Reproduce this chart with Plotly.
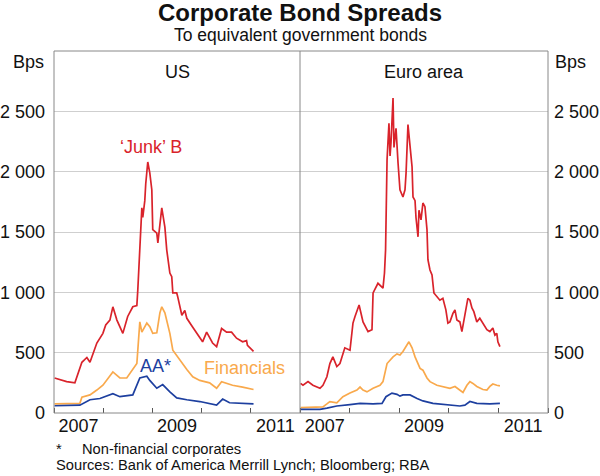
import plotly.graph_objects as go

# ---------------- data (basis points) ----------------
us_junk_dates = ["2007-01-05","2007-04-05","2007-06-05","2007-07-27","2007-09-02","2007-09-25","2007-11-15",
    "2007-12-30","2008-01-20","2008-02-20","2008-03-13","2008-04-12","2008-05-26","2008-07-01","2008-08-08",
    "2008-09-07","2008-09-14","2008-10-14","2008-10-21","2008-11-05","2008-11-12","2008-11-27","2008-12-12",
    "2008-12-27","2009-01-03","2009-02-02","2009-02-10","2009-03-11","2009-04-03","2009-04-17","2009-05-10",
    "2009-05-24","2009-06-01","2009-06-30","2009-07-08","2009-08-07","2009-08-29","2009-09-13","2009-10-27",
    "2009-12-18","2010-01-08","2010-02-07","2010-03-23","2010-04-22","2010-05-29","2010-07-05","2010-08-11",
    "2010-09-17","2010-11-01","2010-11-30","2010-12-07","2011-01-21"]
us_junk = [290,260,250,420,460,420,580,660,730,770,880,770,660,800,880,890,1020,1700,1620,1760,1900,2080,1990,
    1850,1520,1490,1410,1700,1540,1350,1160,1130,995,995,960,810,850,785,710,630,590,670,580,550,700,670,670,
    620,590,600,560,510]

us_fin_dates = ["2007-01-05","2007-07-12","2007-07-27","2007-09-25","2007-11-15","2007-12-30","2008-03-13",
    "2008-05-04","2008-06-24","2008-08-08","2008-09-07","2008-09-29","2008-10-14","2008-11-20","2008-12-12",
    "2009-01-03","2009-02-02","2009-02-25","2009-03-11","2009-04-03","2009-05-10","2009-06-01","2009-07-22",
    "2009-09-13","2009-10-27","2009-12-18","2010-03-01","2010-04-22","2010-05-29","2010-08-18","2010-11-01",
    "2011-01-21"]
us_fin = [75,80,130,150,190,230,340,290,290,360,410,755,670,745,715,660,665,830,880,830,660,520,440,360,300,
    270,250,205,260,230,215,195]

us_aa_dates = ["2007-01-05","2007-07-12","2007-09-25","2007-12-08","2008-03-13","2008-05-04","2008-08-08",
    "2008-09-29","2008-11-20","2008-12-12","2009-02-02","2009-03-18","2009-05-10","2009-06-30","2009-09-13",
    "2009-12-18","2010-04-22","2010-06-06","2010-07-27","2011-01-21"]
us_aa = [60,65,110,120,160,135,150,290,305,270,205,235,175,125,110,95,65,115,85,75]

eu_junk_dates = ["2007-01-05","2007-01-23","2007-03-01","2007-04-06","2007-05-28","2007-06-19","2007-07-18",
    "2007-08-09","2007-08-31","2007-09-29","2007-10-22","2007-11-27","2008-01-04","2008-01-26","2008-02-10",
    "2008-03-11","2008-04-09","2008-05-16","2008-06-14","2008-06-22","2008-07-28","2008-09-03","2008-09-14",
    "2008-09-22","2008-10-03","2008-10-17","2008-10-25","2008-11-01","2008-11-16","2008-11-23","2008-12-08",
    "2008-12-15","2008-12-23","2009-01-06","2009-01-28","2009-02-12","2009-02-20","2009-03-06","2009-03-21",
    "2009-04-05","2009-04-12","2009-04-27","2009-05-04","2009-05-19","2009-05-26","2009-06-10","2009-06-24",
    "2009-07-09","2009-07-24","2009-07-31","2009-08-15","2009-08-30","2009-09-13","2009-10-05","2009-10-27",
    "2009-11-18","2009-12-10","2009-12-25","2010-01-09","2010-01-31","2010-02-15","2010-03-01","2010-03-23",
    "2010-04-07","2010-04-29","2010-05-21","2010-06-05","2010-06-20","2010-07-04","2010-07-26","2010-08-17",
    "2010-09-09","2010-10-08","2010-10-30","2010-11-21","2010-12-06","2010-12-20","2010-12-28","2011-01-12"]
eu_junk = [245,230,260,230,205,230,300,410,465,385,410,540,520,745,800,895,755,675,690,995,1075,1035,1160,
    1350,2100,2400,2130,2240,2610,2200,2360,2260,2070,1850,1790,1850,1990,2390,2240,2040,1790,1760,1620,1460,
    1680,1600,1740,1710,1520,1270,1185,1145,995,965,935,950,855,745,755,825,855,770,755,675,800,950,935,870,
    840,755,785,745,690,675,705,645,660,590,550]

eu_fin_dates = ["2007-01-05","2007-06-19","2007-07-18","2007-08-09","2007-09-29","2007-11-13","2008-01-04",
    "2008-02-24","2008-03-18","2008-04-09","2008-05-08","2008-06-22","2008-08-12","2008-09-03","2008-10-03",
    "2008-10-25","2008-11-16","2008-12-15","2009-01-06","2009-01-28","2009-02-27","2009-03-13","2009-04-05",
    "2009-04-27","2009-06-03","2009-06-24","2009-07-24","2009-08-15","2009-10-05","2009-11-18","2010-01-09",
    "2010-02-15","2010-03-23","2010-04-15","2010-05-14","2010-06-05","2010-06-27","2010-07-26","2010-09-09",
    "2010-10-08","2010-10-30","2010-11-21","2010-12-20","2011-01-12"]
eu_fin = [45,50,75,95,85,135,165,190,215,190,175,205,230,260,410,440,465,490,480,510,565,590,540,465,370,355,
    290,260,230,220,205,220,190,170,230,260,245,220,195,190,220,240,230,225]

eu_aa_dates = ["2007-01-05","2007-05-28","2007-07-18","2007-09-29","2008-01-04","2008-03-18","2008-06-22",
    "2008-08-27","2008-09-25","2008-11-08","2008-12-15","2009-01-06","2009-01-28","2009-03-21","2009-05-12",
    "2009-06-24","2009-09-06","2009-12-18","2010-03-23","2010-04-29","2010-06-05","2010-07-26","2010-10-30",
    "2011-01-12"]
eu_aa = [30,30,40,58,70,80,75,80,135,165,155,140,150,150,120,100,80,70,58,65,95,80,75,80]

y_tick_vals = [0, 500, 1000, 1500, 2000, 2500]
y_tick_text = ["0", "500", "1 000", "1 500", "2 000", "2 500"]
x_label_vals = ["2007-07-02", "2009-07-02", "2011-07-02"]
x_label_text = ["2007", "2009", "2011"]

RED = "#d9232b"
ORANGE = "#f9a94c"
BLUE = "#1d3f9f"
FONT = "Liberation Sans, Arial, sans-serif"
FS = 18

fig = go.Figure()
for d, v, c, xa, ya in [
    (us_junk_dates, us_junk, RED, "x", "y"),
    (us_fin_dates, us_fin, ORANGE, "x", "y"),
    (us_aa_dates, us_aa, BLUE, "x", "y"),
    (eu_junk_dates, eu_junk, RED, "x2", "y2"),
    (eu_fin_dates, eu_fin, ORANGE, "x2", "y2"),
    (eu_aa_dates, eu_aa, BLUE, "x2", "y2"),
]:
    fig.add_trace(go.Scatter(x=d, y=v, mode="lines", line=dict(color=c, width=1.7),
                             xaxis=xa, yaxis=ya, showlegend=False, hoverinfo="skip"))

split = 246 / 494
xcommon = dict(type="date", range=["2007-01-01", "2012-01-01"], showgrid=False, zeroline=False,
               tickmode="array", tickvals=x_label_vals, ticktext=x_label_text, ticks="", ticklen=0,
               tickfont=dict(size=FS, color="#111"), automargin=False,
               minor=dict(ticks="inside", ticklen=5, tickcolor="#555", dtick="M12",
                          tick0="2007-01-01", showgrid=False),
               showline=False)
ycommon = dict(range=[0, 3000], tickmode="array", tickvals=y_tick_vals, ticktext=y_tick_text,
               showgrid=True, gridcolor="#cfcfcf", gridwidth=1, zeroline=False, automargin=False,
               tickfont=dict(size=FS, color="#111"), ticks="", showline=False)

fig.update_layout(
    width=600, height=476,
    margin=dict(l=54, r=52, t=51, b=63, autoexpand=False),
    paper_bgcolor="white", plot_bgcolor="white",
    font=dict(family=FONT, color="#111"),
    xaxis=dict(domain=[0, split], anchor="y", **xcommon),
    xaxis2=dict(domain=[split, 1], anchor="y2", **xcommon),
    yaxis=dict(anchor="x", side="left", ticklabelstandoff=8, **ycommon),
    yaxis2=dict(anchor="x2", side="right", ticklabelstandoff=5, **ycommon),
)

shapes = [
    dict(type="rect", xref="paper", yref="paper", x0=0, x1=1, y0=0, y1=1,
         line=dict(color="#888", width=1)),
    dict(type="line", xref="paper", yref="paper", x0=split, x1=split, y0=0, y1=1,
         line=dict(color="#888", width=1)),
]
fig.update_layout(shapes=shapes)

ann = []
def text(x, y, s, size=FS, color="#111", xanchor="center", bold=False, xref="paper", yref="paper"):
    ann.append(dict(x=x, y=y, xref=xref, yref=yref, text=f"<b>{s}</b>" if bold else s,
                    showarrow=False, xanchor=xanchor, yanchor="middle",
                    font=dict(size=size, color=color, family=FONT)))

# positions in pixel space converted to paper coordinates
def px(xp):
    return (xp - 54) / 494
def py(yp):
    return (413 - yp) / 362

text(px(300), py(12.5), "Corporate Bond Spreads", size=24, bold=True)
text(px(300), py(35), "To equivalent government bonds", size=17.5)
text(px(46), py(62), "Bps", xanchor="right")
text(px(553), py(62), "Bps", xanchor="left")
text(px(177), py(72), "US")
text(px(424), py(72), "Euro area")
text(px(151), py(147), "‘Junk’ B", color=RED)
text(px(155), py(366), "AA*", color=BLUE)
text(px(244), py(368), "Financials", color=ORANGE)
text(px(54), py(449), "*", size=14.7, xanchor="left")
text(px(80), py(449), "Non-financial corporates", size=14.7, xanchor="left")
text(px(54), py(465), "Sources: Bank of America Merrill Lynch; Bloomberg; RBA", size=14.7, xanchor="left")
fig.update_layout(annotations=ann)

fig.write_html("out.html", config={"displayModeBar": False},
               post_script="document.body.style.margin='0';document.body.style.overflow='hidden';")
